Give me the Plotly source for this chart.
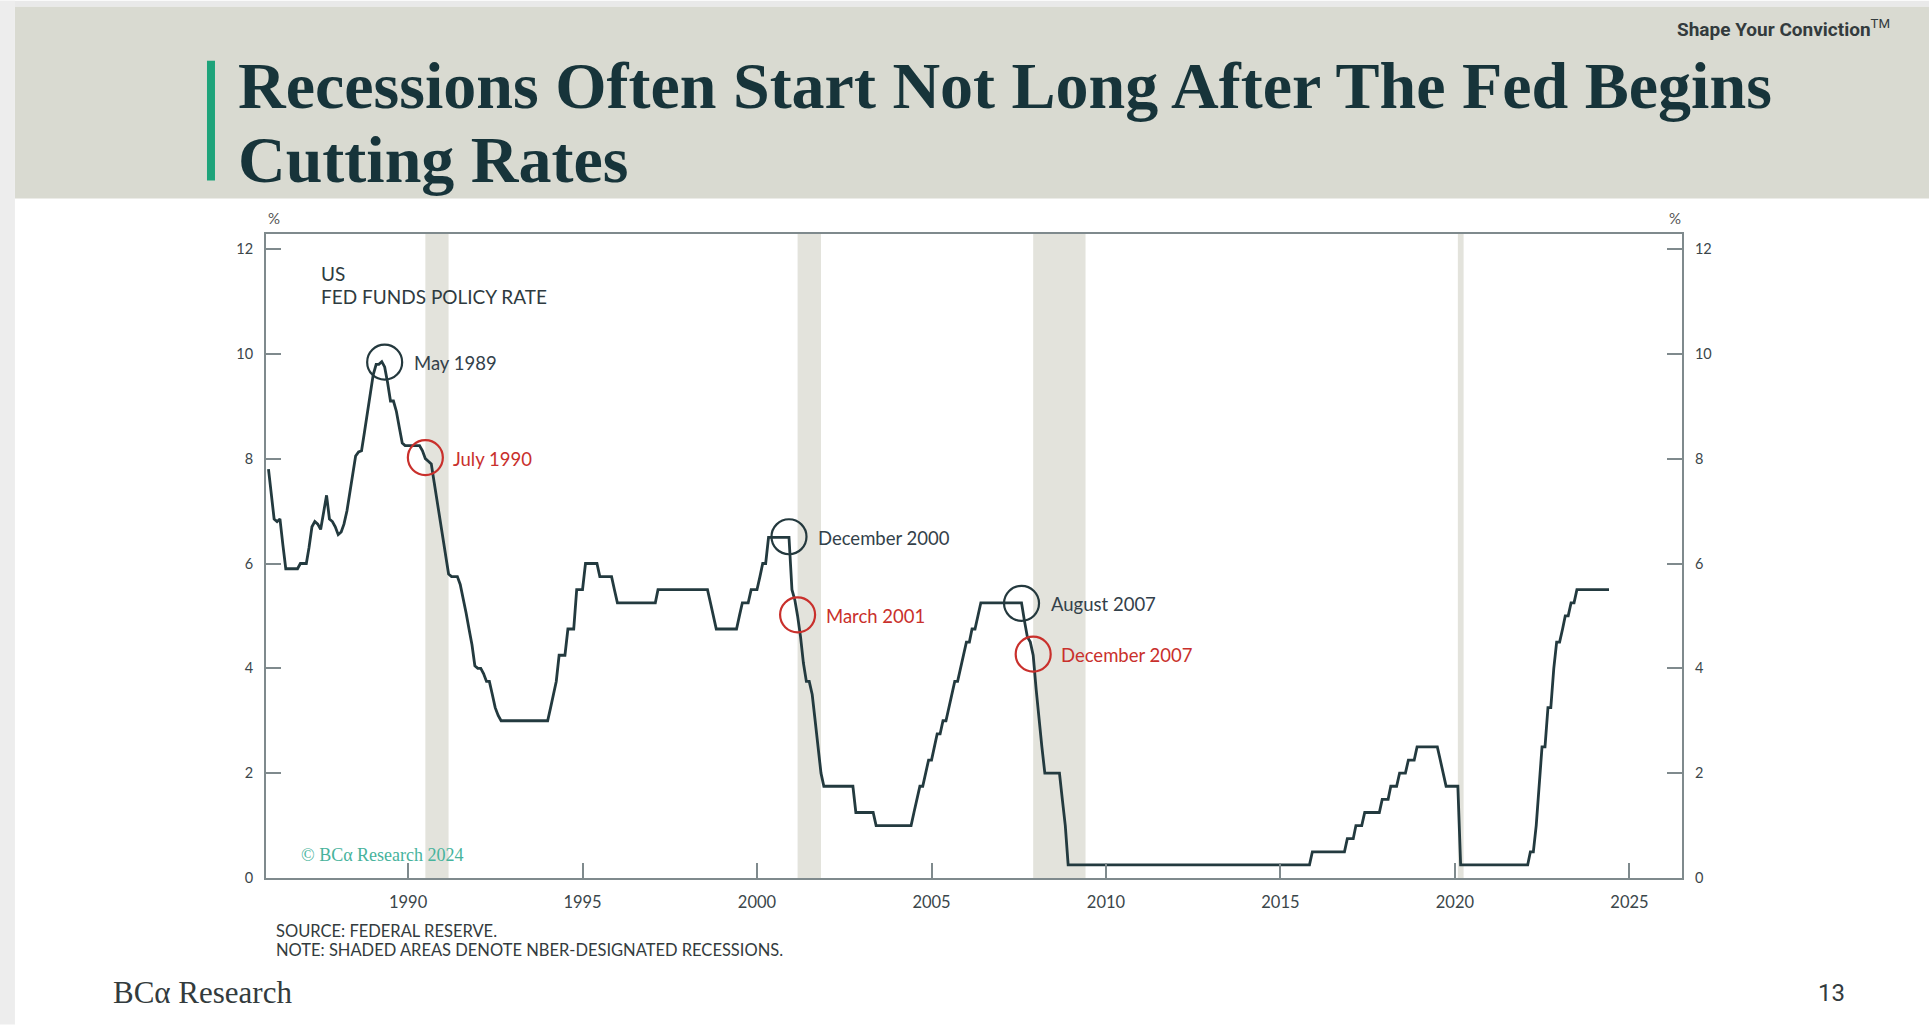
import plotly.graph_objects as go
import pandas as pd

# ---------------- data (monthly, upper fed funds policy rate, %) ----------------
RATE_1986_1989 = [
    7.8, 7.3, 6.85, 6.8, 6.85, 6.35, 5.9, 5.9, 5.9, 5.9, 5.9, 6.0,
    6.0, 6.0, 6.3, 6.7, 6.8, 6.75, 6.65, 6.95, 7.3, 6.85, 6.8, 6.7,
    6.55, 6.6, 6.75, 7.0, 7.35, 7.65, 8.05, 8.13, 8.15, 8.5, 8.85, 9.2,
    9.6, 9.8, 9.8, 9.85, 9.75, 9.45, 9.1, 9.1, 8.9, 8.6, 8.3, 8.25,
]
RATE_1990_1994 = [
    8.25, 8.25, 8.25, 8.25, 8.25, 8.15, 8.0, 7.95, 7.9, 7.55, 7.2, 6.85,
    6.5, 6.15, 5.8, 5.75, 5.75, 5.75, 5.6, 5.35, 5.05, 4.75, 4.45, 4.05,
    4.0, 4.0, 3.9, 3.75, 3.75, 3.5, 3.25, 3.1, 3.0, 3.0, 3.0, 3.0,
    3.0, 3.0, 3.0, 3.0, 3.0, 3.0, 3.0, 3.0, 3.0, 3.0, 3.0, 3.0,
    3.0, 3.25, 3.5, 3.75, 4.25, 4.25, 4.25, 4.75, 4.75, 4.75, 5.5, 5.5,
]
RATE_1995_1999 = [
    5.5, 6.0, 6.0, 6.0, 6.0, 6.0, 5.75, 5.75, 5.75, 5.75, 5.75, 5.5,
    5.25, 5.25, 5.25, 5.25, 5.25, 5.25, 5.25, 5.25, 5.25, 5.25, 5.25, 5.25,
    5.25, 5.25, 5.5, 5.5, 5.5, 5.5, 5.5, 5.5, 5.5, 5.5, 5.5, 5.5,
    5.5, 5.5, 5.5, 5.5, 5.5, 5.5, 5.5, 5.5, 5.25, 5.0, 4.75, 4.75,
    4.75, 4.75, 4.75, 4.75, 4.75, 4.75, 5.0, 5.25, 5.25, 5.25, 5.5, 5.5,
]
RATE_2000_2004 = [
    5.5, 5.75, 6.0, 6.0, 6.5, 6.5, 6.5, 6.5, 6.5, 6.5, 6.5, 6.5,
    5.5, 5.3, 5.0, 4.6, 4.1, 3.75, 3.75, 3.5, 3.0, 2.5, 2.0, 1.75,
    1.75, 1.75, 1.75, 1.75, 1.75, 1.75, 1.75, 1.75, 1.75, 1.75, 1.25, 1.25,
    1.25, 1.25, 1.25, 1.25, 1.25, 1.0, 1.0, 1.0, 1.0, 1.0, 1.0, 1.0,
    1.0, 1.0, 1.0, 1.0, 1.0, 1.0, 1.25, 1.5, 1.75, 1.75, 2.0, 2.25,
]
RATE_2005_2009 = [
    2.25, 2.5, 2.75, 2.75, 3.0, 3.0, 3.25, 3.5, 3.75, 3.75, 4.0, 4.25,
    4.5, 4.5, 4.75, 4.75, 5.0, 5.25, 5.25, 5.25, 5.25, 5.25, 5.25, 5.25,
    5.25, 5.25, 5.25, 5.25, 5.25, 5.25, 5.25, 5.25, 4.9, 4.6, 4.5, 4.25,
    3.6, 3.0, 2.5, 2.0, 2.0, 2.0, 2.0, 2.0, 2.0, 1.5, 1.0, 0.25,
    0.25, 0.25, 0.25, 0.25, 0.25, 0.25, 0.25, 0.25, 0.25, 0.25, 0.25, 0.25,
]
RATE_2010_2014 = [
    0.25, 0.25, 0.25, 0.25, 0.25, 0.25, 0.25, 0.25, 0.25, 0.25, 0.25, 0.25,
    0.25, 0.25, 0.25, 0.25, 0.25, 0.25, 0.25, 0.25, 0.25, 0.25, 0.25, 0.25,
    0.25, 0.25, 0.25, 0.25, 0.25, 0.25, 0.25, 0.25, 0.25, 0.25, 0.25, 0.25,
    0.25, 0.25, 0.25, 0.25, 0.25, 0.25, 0.25, 0.25, 0.25, 0.25, 0.25, 0.25,
    0.25, 0.25, 0.25, 0.25, 0.25, 0.25, 0.25, 0.25, 0.25, 0.25, 0.25, 0.25,
]
RATE_2015_2019 = [
    0.25, 0.25, 0.25, 0.25, 0.25, 0.25, 0.25, 0.25, 0.25, 0.25, 0.25, 0.5,
    0.5, 0.5, 0.5, 0.5, 0.5, 0.5, 0.5, 0.5, 0.5, 0.5, 0.5, 0.75,
    0.75, 0.75, 1.0, 1.0, 1.0, 1.25, 1.25, 1.25, 1.25, 1.25, 1.25, 1.5,
    1.5, 1.5, 1.75, 1.75, 1.75, 2.0, 2.0, 2.0, 2.25, 2.25, 2.25, 2.5,
    2.5, 2.5, 2.5, 2.5, 2.5, 2.5, 2.5, 2.25, 2.0, 1.75, 1.75, 1.75,
]
RATE_2020_2024 = [
    1.75, 1.75, 0.25, 0.25, 0.25, 0.25, 0.25, 0.25, 0.25, 0.25, 0.25, 0.25,
    0.25, 0.25, 0.25, 0.25, 0.25, 0.25, 0.25, 0.25, 0.25, 0.25, 0.25, 0.25,
    0.25, 0.25, 0.5, 0.5, 1.0, 1.75, 2.5, 2.5, 3.25, 3.25, 4.0, 4.5,
    4.5, 4.75, 5.0, 5.0, 5.25, 5.25, 5.5, 5.5, 5.5, 5.5, 5.5, 5.5,
    5.5, 5.5, 5.5, 5.5, 5.5, 5.5,
]
SERIES_START = "1986-01-01"

RECESSION_STARTS = ["1990-07-01", "2001-03-01", "2007-12-01", "2020-02-01"]
RECESSION_ENDS = ["1991-03-01", "2001-11-01", "2009-06-01", "2020-04-01"]

FIRST_CUT_DATES = ["1989-05-01", "2000-12-01", "2007-08-01"]
FIRST_CUT_LEVELS = [9.84, 6.51, 5.24]
FIRST_CUT_LABELS = ["May 1989", "December 2000", "August 2007"]

RECESSION_START_DATES = ["1990-07-01", "2001-03-01", "2007-12-01"]
RECESSION_START_LEVELS = [8.02, 5.02, 4.27]
RECESSION_START_LABELS = ["July 1990", "March 2001", "December 2007"]

Y_TICKS = [0, 2, 4, 6, 8, 10, 12]
X_TICK_YEARS = [1990, 1995, 2000, 2005, 2010, 2015, 2020, 2025]

# ---------------- layout geometry (pixels) ----------------
FIG_W, FIG_H = 1929, 1025
L, R, T, B = 266.0, 1681.7, 233.5, 878.4
PW, PH = R - L, B - T


def px(x):
    return (x - L) / PW


def py(y):
    return (B - y) / PH


LINE_COLOR = "#233a3f"
FRAME_COLOR = "#7f8a8d"
DARK = "#24393e"
RED = "#c9302c"
TEXT = "#3b464a"
SHADE = "#e3e3dc"
BAND = "#d9dad1"
GREEN = "#1ea37a"
TEAL = "#47b39c"
SANS = "Lato, 'Open Sans', sans-serif"
SERIF = "'Liberation Serif', 'DejaVu Serif', serif"

rates = (RATE_1986_1989 + RATE_1990_1994 + RATE_1995_1999 + RATE_2000_2004
         + RATE_2005_2009 + RATE_2010_2014 + RATE_2015_2019 + RATE_2020_2024)
dates = pd.date_range(SERIES_START, periods=len(rates), freq="MS")

fig = go.Figure()

fig.add_trace(go.Scatter(
    x=dates, y=rates, mode="lines",
    line=dict(color=LINE_COLOR, width=2.8),
    hoverinfo="skip", showlegend=False,
))

fig.add_trace(go.Scatter(
    x=FIRST_CUT_DATES, y=FIRST_CUT_LEVELS, mode="markers",
    marker=dict(symbol="circle-open", size=35, color=DARK, line=dict(width=2.2)),
    yaxis="y2", hoverinfo="skip", showlegend=False,
))
fig.add_trace(go.Scatter(
    x=RECESSION_START_DATES, y=RECESSION_START_LEVELS, mode="markers",
    marker=dict(symbol="circle-open", size=35, color=RED, line=dict(width=2.2)),
    yaxis="y2", hoverinfo="skip", showlegend=False,
))

shapes = []
# header band & page chrome
shapes.append(dict(type="rect", xref="paper", yref="paper",
                   x0=px(0), x1=px(FIG_W), y0=py(0), y1=py(6),
                   fillcolor="#e9e9e9", line=dict(width=0), layer="below"))
shapes.append(dict(type="rect", xref="paper", yref="paper",
                   x0=px(15), x1=px(FIG_W), y0=py(6), y1=py(198),
                   fillcolor=BAND, line=dict(width=0), layer="below"))
shapes.append(dict(type="rect", xref="paper", yref="paper",
                   x0=px(0), x1=px(15), y0=py(0), y1=py(FIG_H),
                   fillcolor="#ededed", line=dict(width=0), layer="below"))
shapes.append(dict(type="rect", xref="paper", yref="paper",
                   x0=px(207), x1=px(215), y0=py(60), y1=py(180),
                   fillcolor=GREEN, line=dict(width=0), layer="below"))
# recession shading
for s, e in zip(RECESSION_STARTS, RECESSION_ENDS):
    shapes.append(dict(type="rect", xref="x", yref="y domain",
                       x0=s, x1=e, y0=0, y1=1,
                       fillcolor=SHADE, line=dict(width=0), layer="below"))

annotations = []


def add_text(text, x, y, size, color=TEXT, family=SANS, xanchor="left", yanchor="middle"):
    annotations.append(dict(
        text=text, xref="paper", yref="paper", x=px(x), y=py(y),
        xanchor=xanchor, yanchor=yanchor, showarrow=False,
        font=dict(family=family, size=size, color=color),
    ))


add_text("<b>Recessions Often Start Not Long After The Fed Begins</b>", 236, 85, 66,
         color="#17343a", family=SERIF)
add_text("<b>Cutting Rates</b>", 236, 159, 66, color="#17343a", family=SERIF)
add_text("<b>Shape Your Conviction</b><sup>TM</sup>", 1892, 28, 19,
         color="#333b3d", family="Roboto, sans-serif", xanchor="right")
add_text("US", 319, 273, 19, color="#2e3b40")
add_text("FED FUNDS POLICY RATE", 319, 296, 19, color="#2e3b40")
add_text("© BCα Research 2024", 299, 855, 18, color=TEAL, family=SERIF)
add_text("%", 274, 217, 15, color="#555", xanchor="center")
add_text("%", 1675, 217, 15, color="#555", xanchor="center")
add_text("SOURCE: FEDERAL RESERVE.", 274, 931, 16.5, color="#333b3d")
add_text("NOTE: SHADED AREAS DENOTE NBER-DESIGNATED RECESSIONS.", 274, 950, 16.5,
         color="#333b3d")
add_text("BCα Research", 111, 993, 31, color="#333b3d", family=SERIF)
add_text("13", 1831, 994, 24, color="#333b3d", family="Roboto, sans-serif",
         xanchor="center")

for d, v, lab in zip(FIRST_CUT_DATES, FIRST_CUT_LEVELS, FIRST_CUT_LABELS):
    annotations.append(dict(
        text=lab, x=d, y=v, xref="x", yref="y", xanchor="left", yanchor="middle",
        xshift=27, yshift=-1, showarrow=False,
        font=dict(family=SANS, size=18.5, color="#33414a"),
    ))
for d, v, lab in zip(RECESSION_START_DATES, RECESSION_START_LEVELS, RECESSION_START_LABELS):
    annotations.append(dict(
        text=lab, x=d, y=v, xref="x", yref="y", xanchor="left", yanchor="middle",
        xshift=26, yshift=-1, showarrow=False,
        font=dict(family=SANS, size=18.5, color=RED),
    ))

x_range = ["1985-12-06", "2026-07-05"]
y_range = [0, 12.286]

fig.update_layout(
    width=FIG_W, height=FIG_H, autosize=False,
    margin=dict(l=L, r=FIG_W - R, t=T, b=FIG_H - B, pad=0),
    paper_bgcolor="white", plot_bgcolor="white",
    showlegend=False,
    shapes=shapes, annotations=annotations,
    xaxis=dict(
        type="date", range=x_range,
        tickvals=[f"{y}-01-01" for y in X_TICK_YEARS],
        ticktext=[str(y) for y in X_TICK_YEARS],
        ticks="inside", ticklen=15, tickwidth=2, tickcolor=FRAME_COLOR,
        showline=True, linecolor=FRAME_COLOR, linewidth=2, mirror=True,
        showgrid=False, zeroline=False, ticklabelstandoff=8,
        tickfont=dict(family=SANS, size=16.5, color=TEXT),
    ),
    yaxis=dict(
        range=y_range, tickvals=Y_TICKS, ticktext=[str(v) for v in Y_TICKS],
        ticks="inside", ticklen=15, tickwidth=1.5, tickcolor=FRAME_COLOR,
        showline=True, linecolor=FRAME_COLOR, linewidth=2,
        showgrid=False, zeroline=False, ticklabelstandoff=8,
        tickfont=dict(family=SANS, size=14.5, color=TEXT),
    ),
    yaxis2=dict(
        range=y_range, tickvals=Y_TICKS, ticktext=[str(v) for v in Y_TICKS],
        overlaying="y", side="right",
        ticks="inside", ticklen=15, tickwidth=1.5, tickcolor=FRAME_COLOR,
        showline=True, linecolor=FRAME_COLOR, linewidth=2,
        showgrid=False, zeroline=False, ticklabelstandoff=8,
        tickfont=dict(family=SANS, size=14.5, color=TEXT),
    ),
)

fig.write_html("out.html", config={"displayModeBar": False},
               post_script="document.body.style.margin='0';")
